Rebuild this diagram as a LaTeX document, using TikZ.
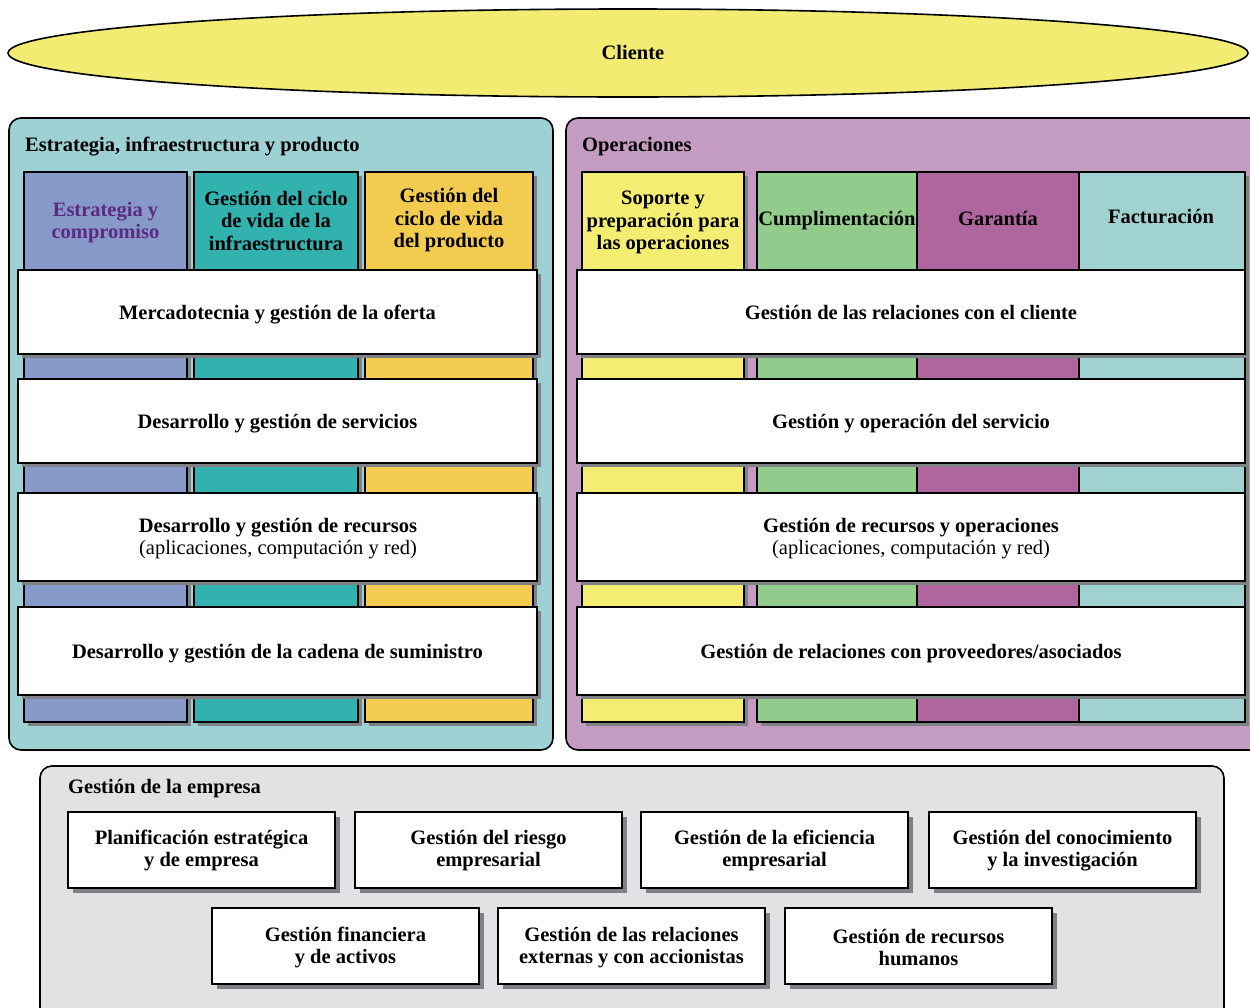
\documentclass[tikz,border=0pt]{standalone}
\usepackage{fontspec}
\setmainfont{Liberation Serif}
\usetikzlibrary{shadows,shapes.geometric}
\definecolor{cliy}{HTML}{F2EC72}
\definecolor{panA}{HTML}{9DD1D3}
\definecolor{panB}{HTML}{C49BC1}
\definecolor{panC}{HTML}{E1E2E4}
\definecolor{cA}{HTML}{8799C8}
\definecolor{cB}{HTML}{31B2AF}
\definecolor{cC}{HTML}{F3CC4F}
\definecolor{cD}{HTML}{F3EE72}
\definecolor{cE}{HTML}{91CC8C}
\definecolor{cF}{HTML}{AF659D}
\definecolor{cG}{HTML}{9FD2D0}
\definecolor{shd}{HTML}{7E8285}
\definecolor{purp}{HTML}{5B2A82}
\tikzset{
  panel/.style={draw=black, line width=1.6pt, rounded corners=12pt, anchor=north west, inner sep=0pt, outer sep=0pt},
  colbox/.style={draw=black, line width=1.8pt, anchor=north west, inner sep=0pt, outer sep=0pt,
     minimum height=550pt, drop shadow={shadow xshift=4pt, shadow yshift=-4pt, fill=shd, opacity=1}},
  bar/.style={draw=black, line width=1.8pt, fill=white, anchor=north west, inner sep=0pt, outer sep=0pt,
     drop shadow={shadow xshift=4pt, shadow yshift=-4pt, fill=shd, opacity=1}},
  ebox/.style={draw=black, line width=1.8pt, fill=white, anchor=north west, inner sep=0pt, outer sep=0pt,
     minimum width=267pt, minimum height=76pt,
     drop shadow={shadow xshift=5pt, shadow yshift=-5pt, fill=shd, opacity=1}},
  lbl/.style={font=\bfseries\fontsize{20.5}{22.5}\selectfont, align=center, inner sep=0pt, yshift=-2.5pt},
  one/.style={text height=14pt, text depth=4.5pt},
  ttl/.style={font=\bfseries\fontsize{20.5}{22.5}\selectfont, anchor=west, inner sep=0pt, yshift=-2.5pt, text height=14pt, text depth=4.5pt},
}
\begin{document}
\begin{tikzpicture}[x=1pt,y=-1pt]
\path[use as bounding box, clip] (0,0) rectangle (1250,1007);
\fill[white] (0,0) rectangle (1250,1007);
% Cliente
\node[draw=black, line width=1.6pt, fill=cliy, ellipse, minimum width=1240pt, minimum height=88pt, inner sep=0pt] (cli) at (628,53) {};
\node[lbl, one] (clit) at (633,52) {Cliente};
% panels
\node[panel, fill=panA, minimum width=544pt, minimum height=632pt] (pA) at (9,118) {};
\node[panel, fill=panB, minimum width=700pt, minimum height=632pt] (pB) at (566,118) {};
\node[panel, fill=panC, minimum width=1184pt, minimum height=260pt] (pC) at (40,766) {};
\node[ttl] (tA) at (25,144) {Estrategia, infraestructura y producto};
\node[ttl] (tB) at (582,144) {Operaciones};
\node[ttl] (tC) at (68,786) {Gestión de la empresa};
% left columns
\node[colbox, fill=cA, minimum width=163pt] (lc1) at (24,172) {};
\node[colbox, fill=cB, minimum width=164pt] (lc2) at (194,172) {};
\node[colbox, fill=cC, minimum width=168pt] (lc3) at (365,172) {};
\node[lbl, text=purp] (lc1t) at (105.5,220) {Estrategia y\\compromiso};
\node[lbl] (lc2t) at (276,218) {Gestión del ciclo\\de vida de la\\infraestructura};
\node[lbl] (lc3t) at (449,218) {Gestión del\\ciclo de vida\\del producto};
% right columns
\node[colbox, fill=cD, minimum width=162pt] (rc1) at (582,172) {};
\node[colbox, fill=cE, minimum width=160pt] (rc2) at (757,172) {};
\node[colbox, fill=cF, minimum width=162pt] (rc3) at (917,172) {};
\node[colbox, fill=cG, minimum width=166pt] (rc4) at (1079,172) {};
\node[lbl] (rc1t) at (663,220) {Soporte y\\preparación para\\las operaciones};
\node[lbl, one] (rc2t) at (837,218) {Cumplimentación};
\node[lbl, one] (rc3t) at (998,218) {Garantía};
\node[lbl, one] (rc4t) at (1161,216) {Facturación};
% left bars
\node[bar, minimum width=519pt, minimum height=84pt] (lb1) at (18,270) {};
\node[bar, minimum width=519pt, minimum height=84pt] (lb2) at (18,379) {};
\node[bar, minimum width=519pt, minimum height=88pt] (lb3) at (18,493) {};
\node[bar, minimum width=519pt, minimum height=88pt] (lb4) at (18,607) {};
\node[lbl, one] (lb1t) at (lb1.center) {Mercadotecnia y gestión de la oferta};
\node[lbl, one] (lb2t) at (lb2.center) {Desarrollo y gestión de servicios};
\node[lbl] (lb3t) at (278,536) {Desarrollo y gestión de recursos\\\mdseries(aplicaciones, computación y red)};
\node[lbl, one] (lb4t) at (lb4.center) {Desarrollo y gestión de la cadena de suministro};
% right bars
\node[bar, minimum width=668pt, minimum height=84pt] (rb1) at (577,270) {};
\node[bar, minimum width=668pt, minimum height=84pt] (rb2) at (577,379) {};
\node[bar, minimum width=668pt, minimum height=88pt] (rb3) at (577,493) {};
\node[bar, minimum width=668pt, minimum height=88pt] (rb4) at (577,607) {};
\node[lbl, one] (rb1t) at (rb1.center) {Gestión de las relaciones con el cliente};
\node[lbl, one] (rb2t) at (rb2.center) {Gestión y operación del servicio};
\node[lbl] (rb3t) at (911,536) {Gestión de recursos y operaciones\\\mdseries(aplicaciones, computación y red)};
\node[lbl, one] (rb4t) at (rb4.center) {Gestión de relaciones con proveedores/asociados};
% enterprise boxes
\node[ebox] (e1) at (68,812) {};
\node[ebox] (e2) at (355,812) {};
\node[ebox] (e3) at (641,812) {};
\node[ebox] (e4) at (929,812) {};
\node[ebox] (e5) at (212,908) {};
\node[ebox] (e6) at (498,908) {};
\node[ebox] (e7) at (785,908) {};
\node[lbl] (e1t) at (201.5,848) {Planificación estratégica\\y de empresa};
\node[lbl] (e2t) at (488.5,848) {Gestión del riesgo\\empresarial};
\node[lbl] (e3t) at (774.5,848) {Gestión de la eficiencia\\empresarial};
\node[lbl] (e4t) at (1062.5,848) {Gestión del conocimiento\\y la investigación};
\node[lbl] (e5t) at (345.5,945) {Gestión financiera\\y de activos};
\node[lbl] (e6t) at (631.5,945) {Gestión de las relaciones\\externas y con accionistas};
\node[lbl] (e7t) at (918.5,945) {Gestión de recursos\\humanos};
\end{tikzpicture}
\end{document}
